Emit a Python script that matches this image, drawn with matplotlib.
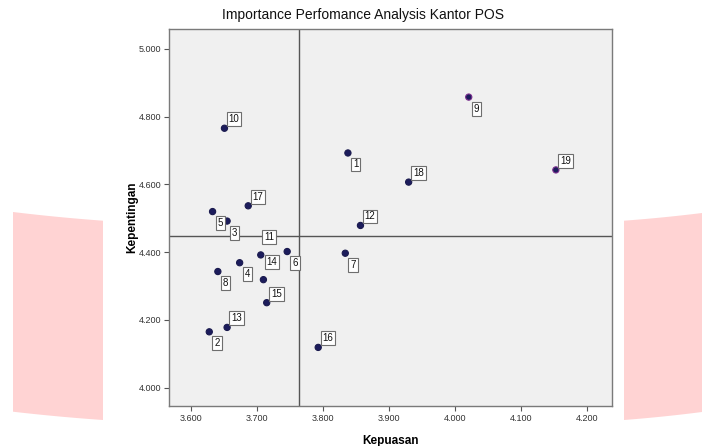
import numpy as np
import matplotlib.pyplot as plt
from matplotlib.patches import Polygon

plt.rcParams['font.family'] = ['Liberation Sans', 'DejaVu Sans']

# data kantor pos (kepuasan vs kepentingan)
labels = [str(i) for i in range(1, 20)]
kepuasan = [3.838, 3.628, 3.655, 3.674, 3.633, 3.746, 3.834, 3.641, 4.021, 3.651,
            3.706, 3.857, 3.655, 3.710, 3.715, 3.793, 3.687, 3.930, 4.153]
kepentingan = [4.693, 4.165, 4.492, 4.369, 4.520, 4.402, 4.397, 4.343, 4.858, 4.766,
               4.392, 4.479, 4.178, 4.319, 4.251, 4.119, 4.537, 4.607, 4.643]

x_ticks = [3.6, 3.7, 3.8, 3.9, 4.0, 4.1, 4.2]
y_ticks = [4.0, 4.2, 4.4, 4.6, 4.8, 5.0]

# posisi label (dalam pixel): b = bawah, a = atas, aa = atas tinggi
label_pos = ['b', 'b', 'b', 'b', 'b', 'b', 'b', 'b', 'b', 'a',
             'aa', 'a', 'a', 'aa', 'a', 'a', 'a', 'a', 'a']
offsets = {'b': (7.7, -11.5), 'a': (9.7, 9.0), 'aa': (8.5, 18.0)}

x_mean = np.mean(kepuasan)
y_mean = np.mean(kepentingan)

fig = plt.figure(figsize=(7.02, 4.46), dpi=100)
fig.patch.set_facecolor('white')

# bayangan pink di kiri dan kanan
W, H = 702.0, 446.0
def band(x0, x1, top0, top1, bot0, bot1):
    xs = np.linspace(x0, x1, 20)
    t = (xs - x0) / (x1 - x0)
    f = t + 0.25 * t * (1 - t)
    top = top0 + (top1 - top0) * f
    bot = bot0 + (bot1 - bot0) * f
    pts = [(x / W, 1 - y / H) for x, y in zip(xs, top)]
    pts += [(x / W, 1 - y / H) for x, y in zip(xs[::-1], bot[::-1])]
    return Polygon(pts, closed=True, transform=fig.transFigure,
                   facecolor='#ffd3d3', edgecolor='none', zorder=0)

fig.add_artist(band(13, 103, 212, 220.7, 411.7, 420))
fig.add_artist(band(702, 624, 213, 220.7, 412, 420))

ax = fig.add_axes([169 / W, 1 - 406 / H, (612 - 169) / W, (406 - 29) / H])
ax.set_facecolor('#f0f0f0')
for s in ax.spines.values():
    s.set_color('#7a7a7a')
    s.set_linewidth(1.0)

ax.axvline(x_mean, color='#555555', lw=1.0, zorder=1)
ax.axhline(y_mean, color='#555555', lw=1.0, zorder=1)

edge = ['#7b2d8e' if l in ('9', '19') else '#1a1a4e' for l in labels]
ax.scatter(kepuasan, kepentingan, s=20, c='#1c1c5c', edgecolors=edge,
           linewidths=0.8, zorder=3)

for lab, x, y, p in zip(labels, kepuasan, kepentingan, label_pos):
    dx, dy = offsets[p]
    ax.annotate(lab, (x, y), xytext=(dx * 0.72, dy * 0.72),
                textcoords='offset points', ha='center', va='center',
                fontsize=7, color='#111111', zorder=4,
                bbox=dict(boxstyle='square,pad=0.2', fc='white',
                          ec='#6e6e6e', lw=0.8))

ax.set_xlim(3.567, 4.238)
ax.set_ylim(3.946, 5.059)
ax.set_xticks(x_ticks)
ax.set_yticks(y_ticks)
ax.set_xticklabels([f"{v:.3f}" for v in x_ticks])
ax.set_yticklabels([f"{v:.3f}" for v in y_ticks])
ax.tick_params(direction='out', length=3.5, width=0.8, color='#555555',
               labelsize=6.5, labelcolor='#333333', pad=2)

fig.text(363 / W, 1 - 15 / H, 'Importance Perfomance Analysis Kantor POS',
         fontsize=10, color='#111111', ha='center', va='center')
ax.set_xlabel('Kepuasan', fontsize=8.5, fontweight='bold', labelpad=9)
ax.set_ylabel('Kepentingan', fontsize=8.5, fontweight='bold', labelpad=0)

fig.savefig('out.png', dpi=100)
